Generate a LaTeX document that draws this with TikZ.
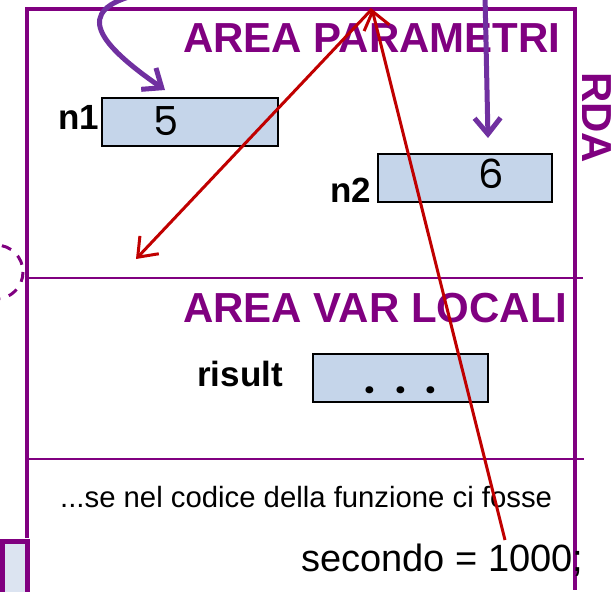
\documentclass[tikz,border=0pt]{standalone}
\usepackage{fontspec}
\setmainfont{Liberation Sans}
\newfontfamily\digitfont{Poppins}
\usetikzlibrary{arrows.meta}
\definecolor{framepurple}{HTML}{800080}
\definecolor{arrowpurple}{HTML}{7030A0}
\definecolor{arrowred}{HTML}{C00000}
\definecolor{boxblue}{HTML}{C5D5EA}
\definecolor{boxpale}{HTML}{DCE4F1}
\tikzset{
  frameline/.style={draw=framepurple, line width=3.5pt, line join=miter},
  divider/.style={draw=framepurple, line width=2.2pt},
  valbox/.style={draw=black, line width=1.8pt, fill=boxblue, rectangle, inner sep=0pt},
  areatitle/.style={text=framepurple, font=\fontsize{42}{42}\selectfont\bfseries, anchor=base west, inner sep=0pt},
  varname/.style={font=\fontsize{35}{35}\selectfont\bfseries, anchor=base west, inner sep=0pt},
  digit/.style={font=\digitfont\fontsize{40}{40}\selectfont, anchor=base, inner sep=0pt},
  pointer/.style={draw=arrowpurple, line width=5pt, -{Straight Barb[length=16pt,width=26pt]}},
  redarrow/.style={draw=arrowred, line width=3pt, -{Straight Barb[length=17pt,width=26pt]}},
  plain/.style={anchor=base west, inner sep=0pt}
}
\begin{document}
\begin{tikzpicture}[x=1pt,y=-1pt]
\useasboundingbox (0,0) rectangle (614,592);
\clip (0,0) rectangle (614,592);
% frame
\draw[frameline] (27,538) -- (27,9) -- (575,9) -- (575,590);
\draw[divider] (27,278) -- (583,278);
\draw[divider] (27,459) -- (584,459);
% bottom-left box
\draw[draw=framepurple, line width=5pt, fill=boxpale] (2,541) rectangle (27.5,620);
% dashed circle
\draw[draw=framepurple, line width=3pt, dash pattern=on 10pt off 9pt] (-4,272) circle[radius=27];
% titles
\node[areatitle] (tpar) at (183,52) {AREA PARAMETRI};
\node[areatitle] (tloc) at (183,322) {AREA VAR LOCALI};
\node[areatitle, rotate=-90] (rda) at (582,72) {RDA};
% variables
\node[varname] (ln1) at (58,129) {n1};
\node[valbox, minimum width=176pt, minimum height=48pt] (b1) at (190,122) {};
\node[digit] (v1) at (166,135) {5};
\node[varname] (ln2) at (330,202) {n2};
\node[valbox, minimum width=174pt, minimum height=48pt] (b2) at (465,178) {};
\node[digit] (v2) at (491,188) {6};
\node[varname] (lr) at (197,386) {risult};
\node[valbox, minimum width=175pt, minimum height=48pt] (b3) at (400.5,378) {};
\node[digit, font=\digitfont\bfseries\fontsize{38}{38}\selectfont] (v3) at (400.5,393) {.\hspace{20pt}.\hspace{20pt}.};
% bottom texts
\node[plain, font=\fontsize{29.3}{29.3}\selectfont] (t1) at (60,507) {...se nel codice della funzione ci fosse};
\node[plain, font=\fontsize{38}{38}\selectfont] (t2) at (301,571) {secondo = 1000;};
% purple arrows
\coordinate (p1s) at (140,-6);
\coordinate (p1e) at (165,90);
\draw[pointer] (p1s) .. controls (70,10) and (100,45) .. (p1e);
\coordinate (p2s) at (485,-6);
\coordinate (p2e) at (488,138);
\draw[pointer] (p2s) -- (p2e);
% red arrows
\coordinate (rs) at (505,540);
\coordinate (rt) at (372,9);
\coordinate (re) at (136,259);
\draw[redarrow] (rs) -- (rt);
\draw[redarrow] (rt) -- (re);
\end{tikzpicture}
\end{document}
